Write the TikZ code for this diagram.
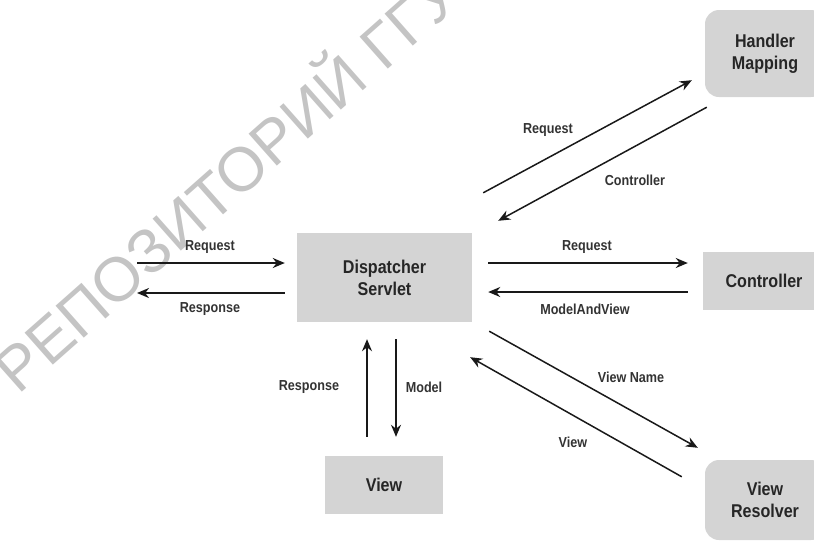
\documentclass[tikz,border=0pt]{standalone}
\usepackage{fontspec}
\setmainfont{Liberation Sans}
\newfontfamily\diafont[FakeStretch=0.87]{Liberation Sans}
\usepackage{tikz}
\usetikzlibrary{arrows.meta}

\definecolor{boxgray}{RGB}{212,212,212}
\definecolor{markgray}{RGB}{196,196,196}

\begin{document}
\begin{tikzpicture}[x=1pt,y=-1pt,
		box/.style={fill=boxgray,inner sep=0pt,align=center,font=\diafont\bfseries\fontsize{18.5}{22}\selectfont,text=black!85},
		rbox/.style={box,rounded corners=14pt},
		lbl/.style={font=\diafont\bfseries\fontsize{14.5}{16}\selectfont,text=black!80},
		harr/.style={-{Stealth[length=12pt,width=10pt]},line width=2.2pt,black!90},
		darr/.style={-{Stealth[length=12pt,width=10pt]},line width=1.5pt,black!90}]
		\clip (0,0) rectangle (814,542);
		
		% watermark
		\node[anchor=base west,rotate=41.5,inner sep=0pt,text=markgray,font=\fontsize{62}{62}\selectfont] (wm) at (18,396) {РЕПОЗИТОРИЙ ГГУ};
		
		\node[box,minimum width=175pt,minimum height=89pt] (ds) at (384.5,277.5) {Dispatcher\\Servlet};
		\node[box,minimum width=118pt,minimum height=58pt] (view) at (384,485) {View};
		\node[rbox,minimum width=120pt,minimum height=87pt] (hm) at (765,53.5) {Handler\\Mapping};
		\node[box,minimum width=122pt,minimum height=58pt] (ctrl) at (764,281) {Controller};
		\node[rbox,minimum width=120pt,minimum height=80pt] (vr) at (765,500) {View\\Resolver};
		
		\coordinate (cin) at (137,263);
		\coordinate (cout) at (137,293);
		
		\draw[harr] (cin) -- ([xshift=-12pt,yshift=14.5pt]ds.west);
		\draw[harr] ([xshift=-12pt,yshift=-15.5pt]ds.west) -- (cout);
		\draw[harr] ([xshift=16pt,yshift=14.5pt]ds.east) -- ([xshift=-15pt,yshift=18pt]ctrl.west);
		\draw[harr] ([xshift=-15pt,yshift=-11pt]ctrl.west) -- ([xshift=16pt,yshift=-14.5pt]ds.east);
		
		\draw[darr] ([xshift=-17pt,yshift=19pt]view.north) -- ([xshift=-17.5pt,yshift=-17pt]ds.south);
		\draw[darr] ([xshift=11.5pt,yshift=-17pt]ds.south) -- ([xshift=12pt,yshift=19pt]view.north);
		
		\draw[darr] ([xshift=11pt,yshift=40pt]ds.north east) -- ([xshift=-13pt,yshift=17pt]hm.south west);
		\draw[darr] ([xshift=2pt,yshift=-10pt]hm.south west) -- ([xshift=26pt,yshift=12pt]ds.north east);
		\draw[darr] ([xshift=17pt,yshift=-9pt]ds.south east) -- ([xshift=-7pt,yshift=12pt]vr.north west);
		\draw[darr] ([xshift=-23pt,yshift=-17pt]vr.north west) -- ([xshift=-2pt,yshift=-35pt]ds.south east);
		
		\node[lbl] (l1) at (210,247) {Request};
		\node[lbl] (l2) at (210,309) {Response};
		\node[lbl] (l3) at (587,247) {Request};
		\node[lbl] (l4) at (585,309) {ModelAndView};
		\node[lbl] (l5) at (309,387) {Response};
		\node[lbl] (l6) at (424,387) {Model};
		\node[lbl] (l7) at (548,130) {Request};
		\node[lbl] (l8) at (635,180) {Controller};
		\node[lbl] (l9) at (631,377) {View Name};
		\node[lbl] (l10) at (573,442) {View};
	\end{tikzpicture}
\end{document}
